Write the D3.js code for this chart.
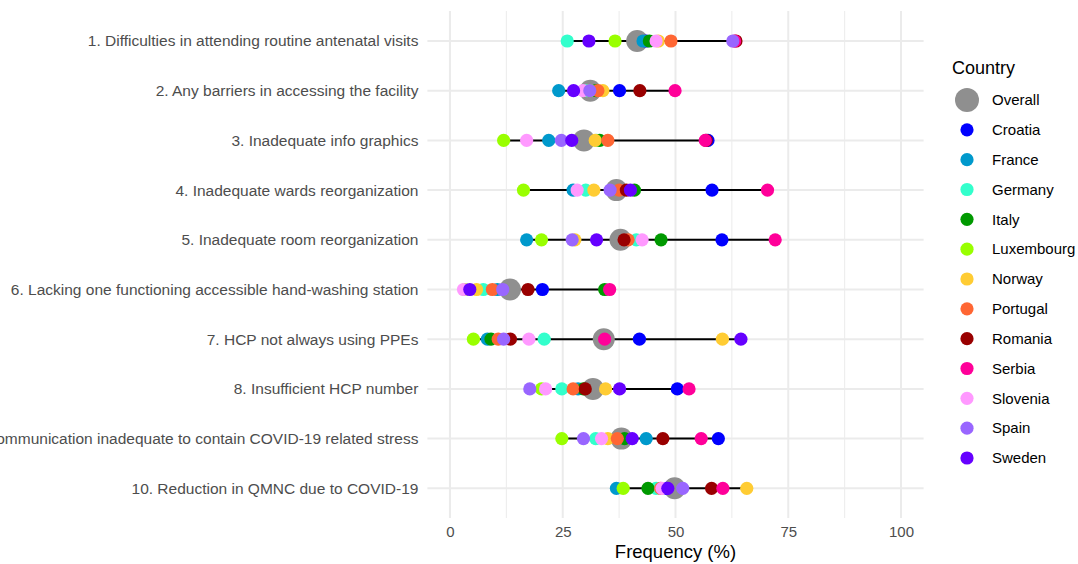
<!DOCTYPE html>
<html>
<head>
<meta charset="utf-8">
<script src="https://cdn.jsdelivr.net/npm/d3@7"></script>
<style>
  body { margin: 0; background: #fff; }
  svg text { font-family: "Liberation Sans", Arial, sans-serif; }
</style>
</head>
<body>
<div id="chart"></div>
<script>
const categories = [
  "1. Difficulties in attending routine antenatal visits",
  "2. Any barriers in accessing the facility",
  "3. Inadequate info graphics",
  "4. Inadequate wards reorganization",
  "5. Inadequate room reorganization",
  "6. Lacking one functioning accessible hand-washing station",
  "7. HCP not always using PPEs",
  "8. Insufficient HCP number",
  "9. Communication inadequate to contain COVID-19 related stress",
  "10. Reduction in QMNC due to COVID-19"
];

const countries = ["Croatia", "France", "Germany", "Italy", "Luxembourg", "Norway",
  "Portugal", "Romania", "Serbia", "Slovenia", "Spain", "Sweden"];

const countryColors = ["#0000ff", "#0099cc", "#33ffcc", "#009900", "#99ff00", "#ffcc33",
  "#ff6633", "#990000", "#ff0099", "#ff99ff", "#9966ff", "#6600ff"];

const overall = [41.5, 31.1, 29.7, 36.9, 37.8, 13.3, 34.1, 31.7, 38.0, 49.8];

// one array per country, in question order 1..10
const croatia    = [43.5, 37.6, 57.2, 58.1, 60.3, 20.5, 42.0, 50.4, 59.5, 48.0];
const france     = [42.8, 24.1, 21.9, 27.3, 17.0, 10.5,  8.3, 28.4, 43.5, 36.9];
const germany    = [26.0, 30.4, 32.5, 30.1, 41.3,  7.4, 20.9, 24.8, 32.3, 45.7];
const italy      = [44.2, 32.4, 33.2, 40.9, 46.8, 34.3,  9.1, 29.6, 38.7, 43.9];
const luxembourg = [36.6, 31.0, 11.9, 16.3, 20.3,  3.3,  5.2, 20.3, 24.8, 38.4];
const norway     = [46.2, 33.9, 32.2, 31.9, 27.7,  5.9, 60.4, 34.5, 35.0, 65.8];
const portugal   = [49.0, 32.8, 35.0, 37.5, 39.5,  9.4, 10.7, 27.3, 37.1, 46.7];
const romania    = [63.4, 42.1, 56.8, 39.1, 38.6, 17.3, 13.4, 30.0, 47.2, 58.0];
const serbia     = [63.1, 49.9, 56.6, 70.4, 72.1, 35.4, 34.3, 53.0, 55.7, 60.5];
const slovenia   = [45.7, 29.5, 17.0, 28.2, 42.6,  3.0, 17.5, 21.2, 33.6, 47.0];
const spain      = [62.7, 31.0, 24.7, 35.5, 27.1, 11.7, 11.9, 17.7, 29.6, 51.6];
const sweden     = [30.8, 27.4, 27.0, 40.0, 32.5,  4.4, 64.5, 37.6, 40.4, 48.3];

const seriesValues = [croatia, france, germany, italy, luxembourg, norway,
  portugal, romania, serbia, slovenia, spain, sweden];

const xTicks = [0, 25, 50, 75, 100];
const xMinor = [12.5, 37.5, 62.5, 87.5];

const W = 1078, H = 564;
const panel = { left: 427.4, right: 923.6, top: 11, bottom: 518 };

const svg = d3.select("#chart")
  .append("svg")
    .attr("width", W)
    .attr("height", H);

const x = d3.scaleLinear()
  .domain([-5, 105])
  .range([panel.left, panel.right]);

const y = d3.scalePoint()
  .domain(categories)
  .range([41, 488.3]);

const color = d3.scaleOrdinal()
  .domain(countries)
  .range(countryColors);

// grid
const grid = svg.append("g");
grid.selectAll("line.minor")
  .data(xMinor)
  .join("line")
    .attr("x1", d => x(d)).attr("x2", d => x(d))
    .attr("y1", panel.top).attr("y2", panel.bottom)
    .attr("stroke", "#ebebeb").attr("stroke-width", 1);
grid.selectAll("line.vmaj")
  .data(xTicks)
  .join("line")
    .attr("x1", d => x(d)).attr("x2", d => x(d))
    .attr("y1", panel.top).attr("y2", panel.bottom)
    .attr("stroke", "#ebebeb").attr("stroke-width", 2);
grid.selectAll("line.hmaj")
  .data(categories)
  .join("line")
    .attr("x1", panel.left).attr("x2", panel.right)
    .attr("y1", d => y(d)).attr("y2", d => y(d))
    .attr("stroke", "#ebebeb").attr("stroke-width", 2);

// long format
const points = [];
countries.forEach((c, ci) => {
  categories.forEach((q, qi) => {
    points.push({ country: c, question: q, value: seriesValues[ci][qi] });
  });
});

const ranges = categories.map((q, qi) => {
  const vals = seriesValues.map(s => s[qi]);
  return { question: q, min: d3.min(vals), max: d3.max(vals) };
});

svg.append("g")
  .selectAll("line")
  .data(ranges)
  .join("line")
    .attr("x1", d => x(d.min))
    .attr("x2", d => x(d.max))
    .attr("y1", d => y(d.question))
    .attr("y2", d => y(d.question))
    .attr("stroke", "#000")
    .attr("stroke-width", 2);

svg.append("g")
  .selectAll("circle")
  .data(overall)
  .join("circle")
    .attr("cx", d => x(d))
    .attr("cy", (d, i) => y(categories[i]))
    .attr("r", 11)
    .attr("fill", "#8f8f8f");

svg.append("g")
  .selectAll("circle")
  .data(points)
  .join("circle")
    .attr("cx", d => x(d.value))
    .attr("cy", d => y(d.question))
    .attr("r", 6.6)
    .attr("fill", d => color(d.country));

// axes
const xAxis = svg.append("g")
  .attr("transform", `translate(0,${panel.bottom})`)
  .call(d3.axisBottom(x).tickValues(xTicks).tickSize(0).tickPadding(8));
xAxis.select(".domain").remove();
xAxis.selectAll("text")
  .attr("fill", "#4d4d4d")
  .style("font-size", "15px");

const yAxis = svg.append("g")
  .attr("transform", `translate(${panel.left},0)`)
  .call(d3.axisLeft(y).tickSize(0).tickPadding(9));
yAxis.select(".domain").remove();
yAxis.selectAll("text")
  .attr("fill", "#4d4d4d")
  .style("font-size", "15.5px");

svg.append("text")
  .attr("x", (panel.left + panel.right) / 2)
  .attr("y", 558)
  .attr("text-anchor", "middle")
  .style("font-size", "18.5px")
  .attr("fill", "#000")
  .text("Frequency (%)");

// legend
const legend = svg.append("g").attr("transform", "translate(952,0)");
legend.append("text")
  .attr("x", 0).attr("y", 74)
  .style("font-size", "18px")
  .attr("fill", "#000")
  .text("Country");

const legendItems = ["Overall", ...countries];
const legendY = d3.scalePoint().domain(legendItems).range([100, 458]);

legend.selectAll("circle")
  .data(legendItems)
  .join("circle")
    .attr("cx", 15)
    .attr("cy", d => legendY(d))
    .attr("r", d => d === "Overall" ? 12 : 6.6)
    .attr("fill", d => d === "Overall" ? "#8f8f8f" : color(d));

legend.selectAll("text.item")
  .data(legendItems)
  .join("text")
    .attr("class", "item")
    .attr("x", 40)
    .attr("y", d => legendY(d))
    .attr("dy", "0.35em")
    .style("font-size", "15px")
    .attr("fill", "#000")
    .text(d => d);
</script>
</body>
</html>
